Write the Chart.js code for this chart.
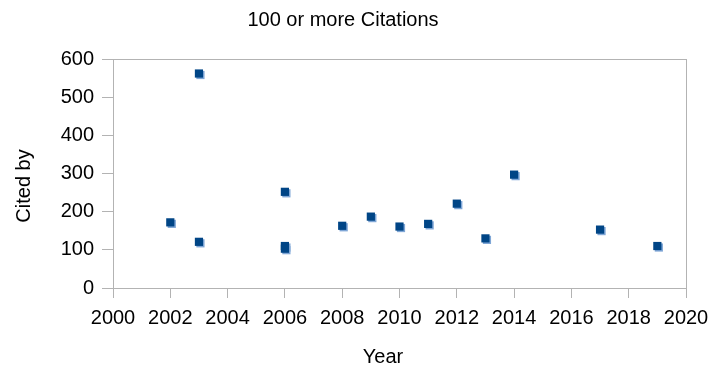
<!DOCTYPE html>
<html>
<head>
<meta charset="utf-8">
<script src="https://cdn.jsdelivr.net/npm/chart.js@4"></script>
<style>
  html, body { margin: 0; padding: 0; background: #fff; }
  #wrap { width: 713px; height: 368px; }
</style>
</head>
<body>
<div id="wrap"><canvas id="chart" width="713" height="368"></canvas></div>
<script>
// data
const years = [2002, 2003, 2003, 2006, 2006, 2006, 2008, 2009, 2010, 2011, 2012, 2013, 2014, 2017, 2019];
const citedBy = [172, 562, 121, 252, 110, 103, 163, 187, 161, 168, 221, 130, 297, 153, 110];
const xTicks = [2000, 2002, 2004, 2006, 2008, 2010, 2012, 2014, 2016, 2018, 2020];
const yTicks = [0, 100, 200, 300, 400, 500, 600];

const FONT = '"Liberation Sans", Arial, sans-serif';
const GRID = '#b3b3b3';

// light shadow behind the markers
const markerShadow = {
  id: 'markerShadow',
  beforeDatasetDraw(chart) {
    const ctx = chart.ctx;
    ctx.shadowColor = '#7fa6d6';
    ctx.shadowOffsetX = 1.5;
    ctx.shadowOffsetY = 1.5;
    ctx.shadowBlur = 0;
  },
  afterDatasetDraw(chart) {
    const ctx = chart.ctx;
    ctx.shadowColor = 'rgba(0,0,0,0)';
    ctx.shadowOffsetX = 0;
    ctx.shadowOffsetY = 0;
  }
};

// frame around plot area
const plotFrame = {
  id: 'plotFrame',
  beforeDatasetsDraw(chart) {
    const { ctx, chartArea: a } = chart;
    ctx.save();
    ctx.strokeStyle = GRID;
    ctx.lineWidth = 1;
    ctx.strokeRect(Math.round(a.left) + 0.5, Math.round(a.top) + 0.5,
      Math.round(a.right - a.left), Math.round(a.bottom - a.top));
    ctx.restore();
  }
};

// axis titles, placed like the original (not centred on the plot)
const axisTitles = {
  id: 'axisTitles',
  afterDraw(chart) {
    const ctx = chart.ctx;
    ctx.save();
    ctx.fillStyle = '#000';
    ctx.font = '20px ' + FONT;
    ctx.textAlign = 'center';
    ctx.textBaseline = 'middle';
    ctx.fillText('Year', 383, 357);
    ctx.translate(24, 186);
    ctx.rotate(-Math.PI / 2);
    ctx.fillText('Cited by', 0, 0);
    ctx.restore();
  }
};

new Chart(document.getElementById('chart'), {
  type: 'scatter',
  data: {
    datasets: [{
      label: 'Cited by',
      data: years.map((y, i) => ({ x: y, y: citedBy[i] })),
      pointStyle: 'rect',
      pointRadius: 5.8,
      pointHoverRadius: 5.8,
      borderWidth: 0,
      backgroundColor: '#004586',
      borderColor: '#004586'
    }]
  },
  options: {
    responsive: false,
    animation: false,
    layout: { padding: { left: 0, right: 27, top: 0, bottom: 0 } },
    plugins: {
      legend: { display: false },
      tooltip: { enabled: false },
      title: {
        display: true,
        text: '100 or more Citations',
        color: '#000',
        font: { family: FONT, size: 20, weight: 'normal' },
        padding: { top: 8, bottom: 27 }
      }
    },
    scales: {
      x: {
        type: 'linear',
        min: 2000,
        max: 2020,
        afterFit: s => { s.height = 80; s.paddingLeft = 0; s.paddingRight = 0; },
        afterBuildTicks: s => { s.ticks = xTicks.map(v => ({ value: v })); },
        grid: { drawOnChartArea: false, color: GRID, tickLength: 10, tickColor: GRID },
        border: { color: GRID },
        ticks: {
          color: '#000',
          font: { family: FONT, size: 20 },
          padding: 8,
          maxRotation: 0,
          callback: v => String(v)
        }
      },
      y: {
        min: 0,
        max: 600,
        afterFit: s => { s.width = 113; s.paddingTop = 0; s.paddingBottom = 0; },
        afterBuildTicks: s => { s.ticks = yTicks.map(v => ({ value: v })); },
        grid: { drawOnChartArea: false, color: GRID, tickLength: 11, tickColor: GRID },
        border: { color: GRID },
        ticks: {
          color: '#000',
          font: { family: FONT, size: 20 },
          padding: 8
        }
      }
    }
  },
  plugins: [plotFrame, markerShadow, axisTitles]
});
</script>
</body>
</html>
